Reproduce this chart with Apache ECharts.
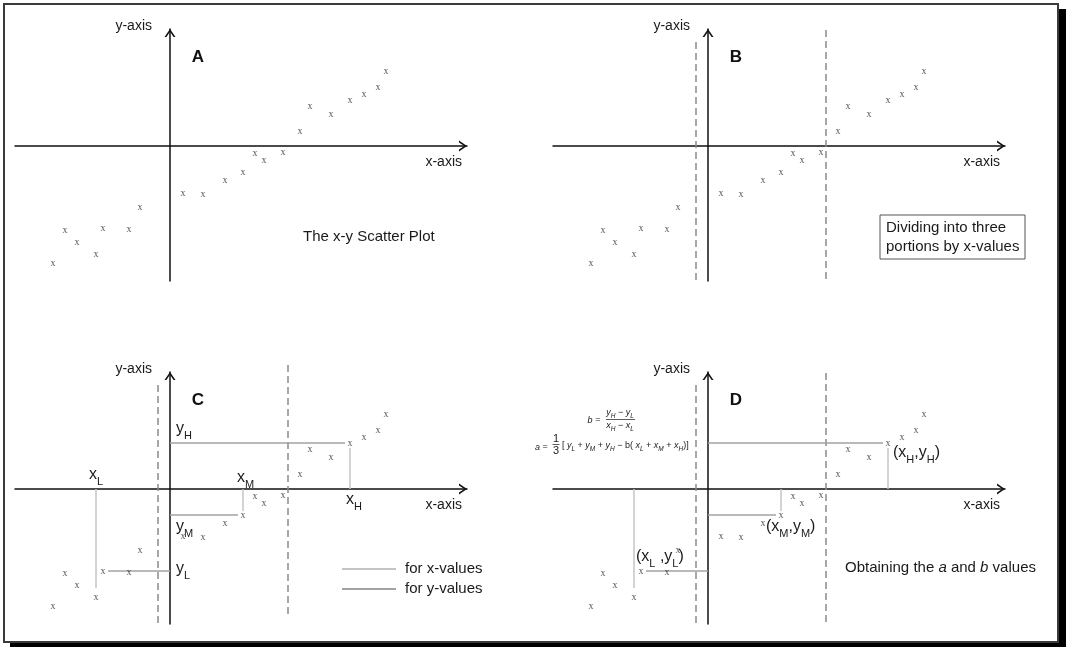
<!DOCTYPE html>
<html>
<head>
<meta charset="utf-8">
<script src="https://cdn.jsdelivr.net/npm/echarts@6/dist/echarts.min.js"></script>
<style>
  html, body { margin: 0; padding: 0; background: #fff; }
  #main { width: 1066px; height: 647px; }
</style>
</head>
<body>
<div id="main"></div>
<script>
// Observations (the same 21 points appear in every panel), in axis units
const pointX = [-11.7, -10.5, -9.3, -7.4, -6.7, -4.1, -3.0, 1.3, 3.3, 5.5, 7.3, 8.5, 9.4, 11.3, 13.0, 14.0, 16.1, 18.0, 19.4, 20.8, 21.6];
const pointY = [-11.7, -8.4, -9.6, -10.8, -8.2, -8.3, -6.1, -4.7, -4.8, -3.4, -2.6, -0.7, -1.4, -0.6, 1.5, 4.0, 3.2, 4.6, 5.2, 5.9, 7.5];

// Axis extents shared by all four panels
const xRange = [-15.5, 29.7];
const yRange = [-13.5, 11.7];

// x positions splitting the data into three portions
const cutX = [-1.2, 11.8];
// vertical span of each dashed divider per panel [left top, left bottom, right top, right bottom]
const cutSpanB = [10.4, -13.5, 11.6, -13.5];
const cutSpanC = [10.4, -13.4, 12.4, -12.6];
const cutSpanD = [10.4, -13.4, 11.6, -13.4];

// Median points of the three portions
const xL = -7.4, yL = -8.2;
const xM = 7.3, yM = -2.6;
const xH = 18.0, yH = 4.6;

// Guide segments: vertical ones mark x-values, horizontal ones mark y-values
const xGuides = [[xL, 0, -9.9], [xM, 0, -2.2], [xH, 0, 4.1]];      // [x, yFrom, yTo]
const yGuides = [[yL, -6.2, 0], [yM, 0, 6.8], [yH, 0, 17.5]];      // [y, xFrom, xTo]

const FONT = '"Liberation Sans", Arial, sans-serif';
const GRID_W = 452, GRID_H = 252;
const panels = [
  { left: 15, top: 29 },   // A
  { left: 553, top: 29 },  // B
  { left: 15, top: 372 },  // C
  { left: 553, top: 372 }  // D
];
// pixel position of the origin inside each panel
const origin = panels.map(p => [
  p.left + (0 - xRange[0]) / (xRange[1] - xRange[0]) * GRID_W,
  p.top + (yRange[1] - 0) / (yRange[1] - yRange[0]) * GRID_H
]);

// open arrow head (points up; the axis rotates it)
const CHEVRON = 'path://M0,8 L5.5,0 L11,8 L9.1,8 L5.5,2.7 L1.9,8 Z';
const axisLine = {
  show: true, onZero: true,
  symbol: ['none', CHEVRON], symbolSize: [11, 8], symbolOffset: [0, -4],
  lineStyle: { color: '#111', width: 1.5 }
};
const hiddenBits = { axisTick: { show: false }, axisLabel: { show: false }, splitLine: { show: false } };

const grid = panels.map(p => ({ left: p.left, top: p.top, width: GRID_W, height: GRID_H }));
const xAxis = panels.map((p, i) => Object.assign({ type: 'value', gridIndex: i, min: xRange[0], max: xRange[1], axisLine }, hiddenBits));
const yAxis = panels.map((p, i) => Object.assign({ type: 'value', gridIndex: i, min: yRange[0], max: yRange[1], axisLine }, hiddenBits));

const series = [];
panels.forEach((p, i) => {
  series.push({
    type: 'scatter', xAxisIndex: i, yAxisIndex: i, silent: true, z: 5,
    data: pointX.map((x, k) => [x, pointY[k]]),
    symbolSize: 1, itemStyle: { color: 'rgba(0,0,0,0)' },
    label: { show: true, position: 'inside', formatter: 'x', fontFamily: '"Liberation Serif", serif', fontSize: 10, color: '#2a2a2a' }
  });
});

function dividers(i, span) {
  return {
    type: 'lines', coordinateSystem: 'cartesian2d', xAxisIndex: i, yAxisIndex: i, silent: true, clip: false, z: 3,
    lineStyle: { color: '#8a8a8a', width: 1.5, type: [7, 4], opacity: 1 },
    data: [
      { coords: [[cutX[0], span[0]], [cutX[0], span[1]]] },
      { coords: [[cutX[1], span[2]], [cutX[1], span[3]]] }
    ]
  };
}
series.push(dividers(1, cutSpanB), dividers(2, cutSpanC), dividers(3, cutSpanD));

const X_GUIDE = '#c4c4c4', Y_GUIDE = '#a2a2a2';
[2, 3].forEach(i => {
  series.push({
    name: 'for x-values', type: 'lines', coordinateSystem: 'cartesian2d', xAxisIndex: i, yAxisIndex: i, silent: true, clip: false, z: 4,
    lineStyle: { color: X_GUIDE, width: 1.5, opacity: 1 },
    data: xGuides.map(g => ({ coords: [[g[0], g[1]], [g[0], g[2]]] }))
  });
  series.push({
    name: 'for y-values', type: 'lines', coordinateSystem: 'cartesian2d', xAxisIndex: i, yAxisIndex: i, silent: true, clip: false, z: 4,
    lineStyle: { color: Y_GUIDE, width: 1.5, opacity: 1 },
    data: yGuides.map(g => ({ coords: [[g[1], g[0]], [g[2], g[0]]] }))
  });
});

// ---- text helpers ----
const RICH = {
  m: { fontSize: 16, fontFamily: FONT, verticalAlign: 'top', lineHeight: 16 },
  s: { fontSize: 11, fontFamily: FONT, padding: [9, 0, 0, 0] }
};
const FRICH = {
  v: { fontSize: 9, fontFamily: FONT, fontStyle: 'italic', verticalAlign: 'top', lineHeight: 9 },
  n: { fontSize: 9, fontFamily: FONT, verticalAlign: 'top', lineHeight: 9 },
  s: { fontSize: 6.5, fontFamily: FONT, fontStyle: 'italic', padding: [4.5, 0, 0, 0] }
};
function txt(x, y, text, opts) {
  return {
    type: 'text', x, y, z: 50, silent: true,
    style: Object.assign({ text, fill: '#1a1a1a', fontFamily: FONT, fontSize: 15, align: 'left', verticalAlign: 'middle' }, opts || {})
  };
}
function hline(x1, x2, y, color, w) {
  return { type: 'line', z: 50, silent: true, shape: { x1, y1: y, x2, y2: y }, style: { stroke: color, lineWidth: w } };
}

const graphic = [
  // page frame with drop shadow
  { type: 'rect', z: -20, silent: true, shape: { x: 10, y: 9, width: 1056, height: 640 }, style: { fill: '#000' } },
  { type: 'rect', z: -19, silent: true, shape: { x: 4, y: 4, width: 1054, height: 638 }, style: { fill: '#fff', stroke: '#3a3a3a', lineWidth: 2 } }
];

// panel letters and axis names
['A', 'B', 'C', 'D'].forEach((letter, i) => {
  const [ox, oy] = origin[i];
  graphic.push(txt(ox + 28, oy - 89, letter, { fontSize: 17, fontWeight: 'bold', align: 'center', fill: '#111' }));
  graphic.push(txt(ox - 18, oy - 120, 'y-axis', { fontSize: 14, align: 'right' }));
  graphic.push(txt(ox + 292, oy + 16, 'x-axis', { fontSize: 14, align: 'right' }));
});

// panel A note
graphic.push(txt(303, 237, 'The x-y Scatter Plot'));

// panel B note in a box
graphic.push({ type: 'rect', z: 40, silent: true, shape: { x: 880, y: 215, width: 145, height: 44 }, style: { fill: '#fff', stroke: '#555', lineWidth: 1 } });
graphic.push(txt(886, 237, 'Dividing into three\nportions by x-values', { lineHeight: 19 }));

// panel C labels
graphic.push(txt(89, 477, '{m|x}{s|L}', { rich: RICH }));
graphic.push(txt(237, 480, '{m|x}{s|M}', { rich: RICH }));
graphic.push(txt(346, 502, '{m|x}{s|H}', { rich: RICH }));
graphic.push(txt(176, 431, '{m|y}{s|H}', { rich: RICH }));
graphic.push(txt(176, 529, '{m|y}{s|M}', { rich: RICH }));
graphic.push(txt(176, 571, '{m|y}{s|L}', { rich: RICH }));

// panel C legend
const legend = {
  data: [
    { name: 'for x-values', itemStyle: { color: X_GUIDE, borderWidth: 0 } },
    { name: 'for y-values', itemStyle: { color: Y_GUIDE, borderWidth: 0 } }
  ],
  orient: 'vertical', left: 342, top: 561, padding: 0, icon: 'rect',
  itemWidth: 54, itemHeight: 2, itemGap: 4, selectedMode: false,
  itemStyle: { borderWidth: 0 },
  textStyle: { fontSize: 15, color: '#1a1a1a', fontFamily: FONT, lineHeight: 16, padding: [0, 0, 0, 4] }
};

// panel D labels
graphic.push(txt(893, 455, '{m|(x}{s|H}{m|,y}{s|H}{m|)}', { rich: RICH }));
graphic.push(txt(766, 529, '{m|(x}{s|M}{m|,y}{s|M}{m|)}', { rich: RICH }));
graphic.push(txt(636, 559, '{m|(x}{s|L}{m| ,y}{s|L}{m|)}', { rich: RICH }));
graphic.push(txt(845, 568, '{n|Obtaining the }{i|a}{n| and }{i|b}{n| values}', {
  rich: { n: { fontSize: 15, fontFamily: FONT }, i: { fontSize: 15, fontFamily: FONT, fontStyle: 'italic' } }
}));

// formulas for b and a
graphic.push(txt(594, 420, '{v|b}{n| =}', { rich: FRICH, align: 'center' }));
graphic.push(txt(620, 414, '{v|y}{s|H}{n| − }{v|y}{s|L}', { rich: FRICH, align: 'center' }));
graphic.push(hline(606, 635, 419.5, '#333', 0.8));
graphic.push(txt(620, 427, '{v|x}{s|H}{n| − }{v|x}{s|L}', { rich: FRICH, align: 'center' }));
graphic.push(txt(535, 447, '{v|a}{n| =}', { rich: FRICH }));
graphic.push(txt(556, 439, '1', { fontSize: 11, align: 'center', fill: '#222' }));
graphic.push(hline(552.5, 559.5, 444.5, '#333', 0.8));
graphic.push(txt(556, 451, '3', { fontSize: 11, align: 'center', fill: '#222' }));
graphic.push(txt(562, 447,
  '{n|[ }{v|y}{s|L}{n| + }{v|y}{s|M}{n| + }{v|y}{s|H}{n| − b( }{v|x}{s|L}{n| + }{v|x}{s|M}{n| + }{v|x}{s|H}{n|)]}',
  { rich: FRICH }));

const chart = echarts.init(document.getElementById('main'), null, { renderer: 'canvas' });
chart.setOption({
  animation: false,
  backgroundColor: '#fff',
  grid, xAxis, yAxis, series, legend, graphic
});
</script>
</body>
</html>
